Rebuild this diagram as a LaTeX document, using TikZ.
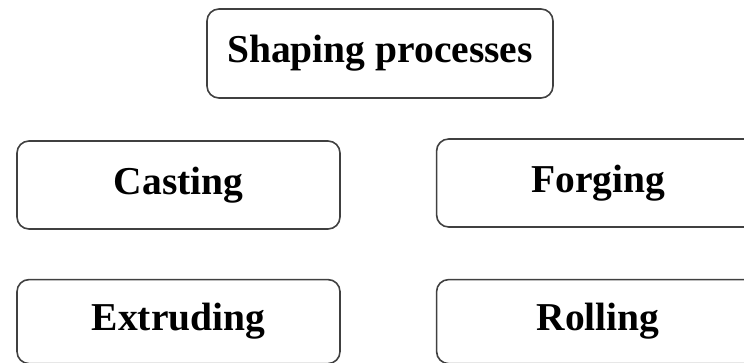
\documentclass[tikz,border=0pt]{standalone}
\usepackage{fontspec}
\setmainfont{Liberation Serif}
\usepackage{tikz}
\usetikzlibrary{positioning}
\def\BoxWidth{323pt}
\def\BoxHeight{88pt}
\def\ColGap{95pt}
\def\RowGap{49pt}

\tikzset{
  procbox/.style={draw=gray!50!black, line width=1.6pt, rounded corners=12pt,
    minimum width=\BoxWidth, minimum height=\BoxHeight, inner sep=0pt,
    font=\fontsize{39.5}{45}\selectfont\bfseries},
}

\begin{document}
\begin{tikzpicture}[x=1pt,y=-1pt]
	\useasboundingbox (0,0) rectangle (744,363);
	% top box
	\node[procbox, minimum width=346pt, minimum height=89pt] (shp) at (380,53.5) {Shaping processes};
	% first row
	\node[procbox] (cst) at (178.5,185) {Casting};
	\node[procbox, right=\ColGap of cst, yshift=2pt] (frg) {Forging};
	% second row
	\node[procbox, minimum height=84pt, below=\RowGap of cst] (ext) {Extruding};
	\node[procbox, minimum height=84pt, right=\ColGap of ext] (rol) {Rolling};
\end{tikzpicture}
\end{document}
